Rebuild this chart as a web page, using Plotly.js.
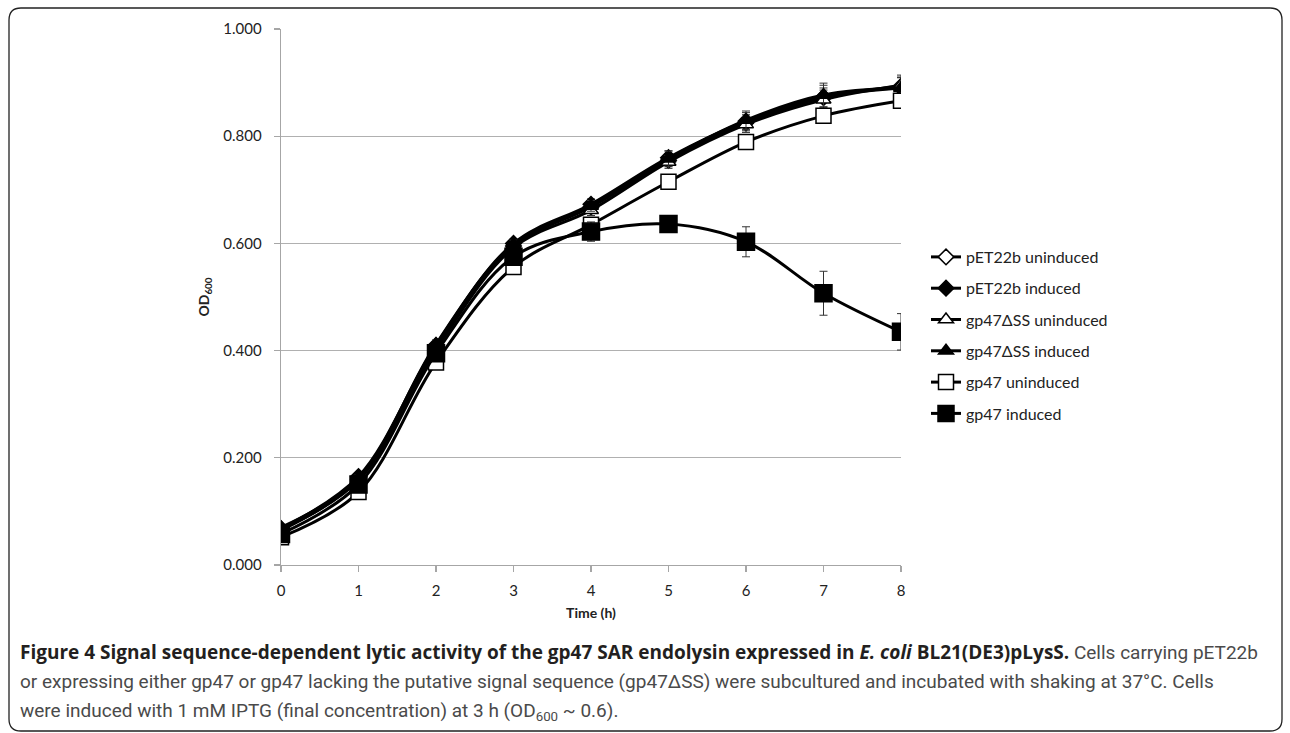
<!DOCTYPE html>
<html>
<head>
<meta charset="utf-8">
<script src="https://cdn.plot.ly/plotly-3.0.1.min.js"></script>
<style>
html,body{margin:0;padding:0;background:#fff;}
#chart{width:1290px;height:733px;}
</style>
</head>
<body>
<div id="chart"></div>
<script>
// ---- data ----
const hours = [0, 1, 2, 3, 4, 5, 6, 7, 8];
const seriesNames = ["pET22b uninduced", "pET22b induced", "gp47\u0394SS uninduced", "gp47\u0394SS induced", "gp47 uninduced", "gp47 induced"];
const pET22bUninduced = [0.065, 0.160, 0.405, 0.595, 0.668, 0.755, 0.825, 0.872, 0.893];
const pET22bUninducedErr = [0.004, 0.006, 0.008, 0.008, 0.010, 0.012, 0.015, 0.018, 0.016];
const pET22bInduced = [0.068, 0.165, 0.410, 0.600, 0.673, 0.760, 0.828, 0.873, 0.890];
const pET22bInducedErr = [0.004, 0.006, 0.008, 0.008, 0.010, 0.013, 0.016, 0.022, 0.020];
const ssUninduced = [0.066, 0.158, 0.402, 0.592, 0.662, 0.752, 0.822, 0.868, 0.895];
const ssUninducedErr = [0.004, 0.006, 0.008, 0.008, 0.010, 0.012, 0.015, 0.018, 0.019];
const ssInduced = [0.070, 0.162, 0.412, 0.598, 0.670, 0.758, 0.830, 0.877, 0.890];
const ssInducedErr = [0.004, 0.006, 0.008, 0.008, 0.010, 0.014, 0.017, 0.022, 0.020];
const gp47Uninduced = [0.052, 0.136, 0.378, 0.556, 0.635, 0.715, 0.789, 0.838, 0.866];
const gp47UninducedErr = [0.004, 0.005, 0.007, 0.008, 0.010, 0.012, 0.012, 0.012, 0.012];
const gp47Induced = [0.058, 0.150, 0.395, 0.575, 0.622, 0.636, 0.603, 0.507, 0.435];
const gp47InducedErr = [0.004, 0.006, 0.008, 0.010, 0.018, 0.008, 0.028, 0.041, 0.034];
const yTickVals = [0, 0.2, 0.4, 0.6, 0.8, 1.0];
const xTickVals = [0, 1, 2, 3, 4, 5, 6, 7, 8];

// ---- layout helpers (pixel -> paper) ----
const W = 1290, H = 733, L = 281, R = 901, T = 29, B = 565;
const px = p => (p - L) / (R - L);
const py = p => (B - p) / (B - T);

const values = [pET22bUninduced, pET22bInduced, ssUninduced, ssInduced, gp47Uninduced, gp47Induced];
const errs = [pET22bUninducedErr, pET22bInducedErr, ssUninducedErr, ssInducedErr, gp47UninducedErr, gp47InducedErr];
const symbols = ["diamond", "diamond", "triangle-up", "triangle-up", "square", "square"];
const fills = ["#ffffff", "#000000", "#ffffff", "#000000", "#ffffff", "#000000"];
const sizes = [12, 12, 13, 13, 15, 17];

const traces = seriesNames.map((name, i) => ({
  type: "scatter",
  mode: "lines+markers",
  name: name,
  legendgroup: "g" + i,
  x: hours,
  y: values[i],
  error_y: {type: "data", array: errs[i], visible: true, color: "#333333", thickness: 1, width: 4},
  line: {color: "#000000", width: 3, shape: "spline", smoothing: 1},
  marker: {symbol: symbols[i], size: sizes[i], color: fills[i], line: {color: "#000000", width: 1.5}}
}));

// rounded border path in paper coords
function rr(x0, y0, x1, y1, r) {
  const X = v => px(v), Y = v => py(v);
  return "M " + X(x0) + "," + Y(y0 + r) +
    " Q " + X(x0) + "," + Y(y0) + " " + X(x0 + r) + "," + Y(y0) +
    " L " + X(x1 - r) + "," + Y(y0) +
    " Q " + X(x1) + "," + Y(y0) + " " + X(x1) + "," + Y(y0 + r) +
    " L " + X(x1) + "," + Y(y1 - r) +
    " Q " + X(x1) + "," + Y(y1) + " " + X(x1 - r) + "," + Y(y1) +
    " L " + X(x0 + r) + "," + Y(y1) +
    " Q " + X(x0) + "," + Y(y1) + " " + X(x0) + "," + Y(y1 - r) + " Z";
}

const gray = "#4a4a4a";
const capFont = {family: "Roboto, sans-serif", size: 19, color: gray};
const boldOpen = "<span style=\"font-family:'Open Sans',sans-serif;font-weight:bold;fill:#231f20\">";

const layout = {
  width: W, height: H,
  margin: {l: L, r: W - R, t: T, b: H - B},
  paper_bgcolor: "#ffffff",
  plot_bgcolor: "#ffffff",
  font: {family: "Lato, sans-serif", size: 15, color: "#222222"},
  showlegend: true,
  legend: {
    x: px(926), xanchor: "left", y: py(240), yanchor: "top",
    traceorder: "grouped", tracegroupgap: 7.5,
    font: {family: "Lato, sans-serif", size: 16, color: "#222222"},
    bgcolor: "rgba(0,0,0,0)"
  },
  xaxis: {
    range: [0, 8], tickvals: xTickVals, ticktext: xTickVals.map(String),
    showgrid: false, zeroline: false,
    showline: true, linecolor: "#a6a6a6", linewidth: 1.3,
    ticks: "outside", ticklen: 6, tickcolor: "#a6a6a6", tickwidth: 1.3,
    ticklabelstandoff: 6,
    title: {text: "<b>Time (h)</b>", font: {family: "Lato, sans-serif", size: 14, color: "#222222"}, standoff: 10}
  },
  yaxis: {
    range: [0, 1], tickvals: yTickVals, ticktext: yTickVals.map(v => v.toFixed(3)),
    showgrid: true, gridcolor: "#b0b0b0", gridwidth: 1.3, zeroline: false,
    showline: true, linecolor: "#a6a6a6", linewidth: 1.3,
    ticks: "outside", ticklen: 6, tickcolor: "#a6a6a6", tickwidth: 1.3,
    ticklabelstandoff: 9,
    title: {text: "<b>OD<sub>600</sub></b>", font: {family: "Lato, sans-serif", size: 14, color: "#222222"}, standoff: 10}
  },
  shapes: [{
    type: "path", xref: "paper", yref: "paper",
    path: rr(9, 8, 1282, 731, 12),
    line: {color: "#222222", width: 1.3}, fillcolor: "rgba(0,0,0,0)", layer: "below"
  }],
  annotations: [
    {xref: "paper", yref: "paper", x: px(18), y: py(652), xanchor: "left", yanchor: "middle", showarrow: false, align: "left", font: capFont,
     text: boldOpen + "Figure 4 Signal sequence-dependent lytic activity of the gp47 SAR endolysin expressed in <i>E. coli</i> BL21(DE3)pLysS.</span> Cells carrying pET22b"},
    {xref: "paper", yref: "paper", x: px(18), y: py(682), xanchor: "left", yanchor: "middle", showarrow: false, align: "left", font: capFont,
     text: "or expressing either gp47 or gp47 lacking the putative signal sequence (gp47\u0394SS) were subcultured and incubated with shaking at 37\u00b0C. Cells"},
    {xref: "paper", yref: "paper", x: px(18), y: py(711), xanchor: "left", yanchor: "middle", showarrow: false, align: "left", font: capFont,
     text: "were induced with 1 mM IPTG (final concentration) at 3 h (OD<sub>600</sub> ~ 0.6)."}
  ]
};

Plotly.newPlot("chart", traces, layout, {displayModeBar: false, staticPlot: true});
</script>
</body>
</html>
